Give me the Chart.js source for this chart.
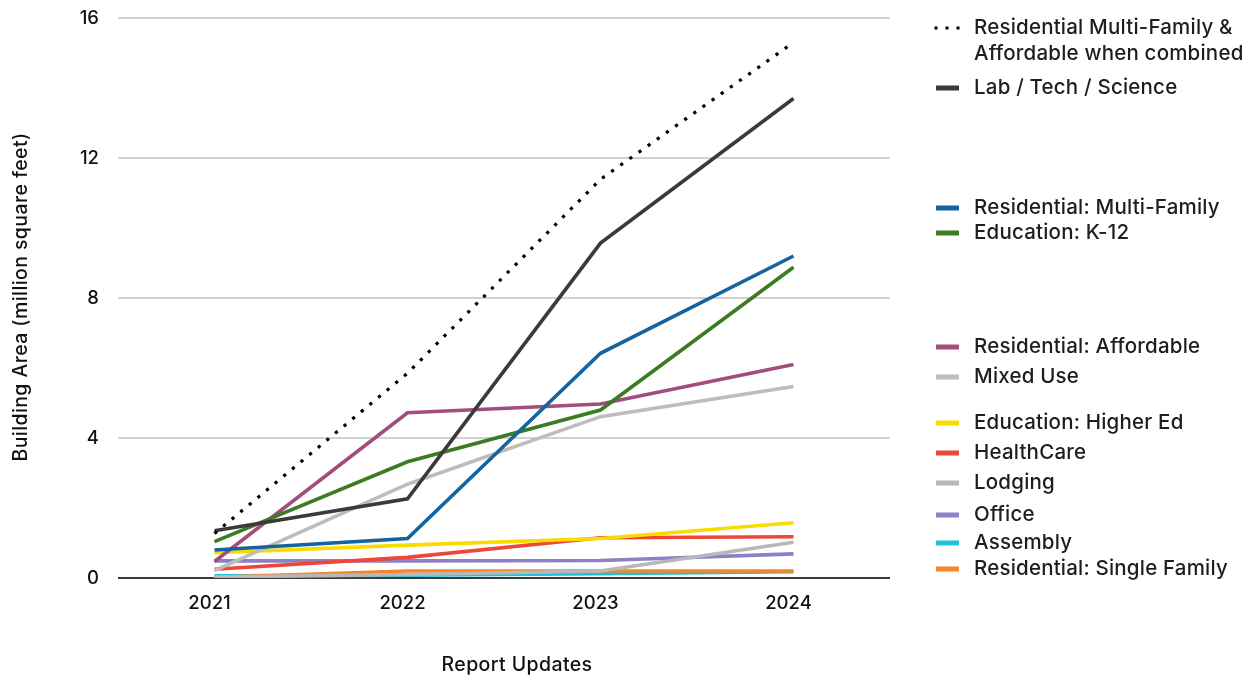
<!DOCTYPE html>
<html>
<head>
<meta charset="utf-8">
<title>Building Area by Report Update</title>
<script src="https://cdn.jsdelivr.net/npm/chart.js@4.4.1/dist/chart.umd.min.js"></script>
<style>
  html, body { margin: 0; padding: 0; background: #ffffff; }
  #wrap { position: relative; width: 1259px; height: 679px; }
</style>
</head>
<body>
<div id="wrap"><canvas id="chart" width="1259" height="679"></canvas></div>
<script>
// Report years (x categories)
const years = ['2021', '2022', '2023', '2024'];

// Y tick values (million square feet)
const yTicks = [0, 4, 8, 12, 16];

// Building area per sector, million square feet
const labTechScience   = [1.35, 2.26, 9.57, 13.70];
const resMultiFamily   = [0.80, 1.13, 6.42, 9.20];
const eduK12           = [1.04, 3.32, 4.80, 8.88];
const resAffordable    = [0.47, 4.72, 4.97, 6.10];
const mixedUse         = [0.21, 2.68, 4.61, 5.47];
const eduHigherEd      = [0.72, 0.94, 1.13, 1.58];
const healthCare       = [0.25, 0.59, 1.15, 1.18];
const lodging          = [0.03, 0.10, 0.20, 1.02];
const office           = [0.49, 0.49, 0.50, 0.69];
const assembly         = [0.06, 0.08, 0.12, 0.18];
const resSingleFamily  = [0.02, 0.20, 0.20, 0.20];

// Multi-family and affordable housing added together
const resCombined = resMultiFamily.map((v, i) => +(v + resAffordable[i]).toFixed(2));

const series = [
  { name: ['Residential Multi-Family &', 'Affordable when combined'], data: resCombined, color: '#000000', dotted: true },
  { name: ['Lab / Tech / Science'],            data: labTechScience,  color: '#3a3a3a' },
  { name: ['Residential: Multi-Family'],       data: resMultiFamily,  color: '#14649f' },
  { name: ['Education: K-12'],                 data: eduK12,          color: '#3b7b22' },
  { name: ['Residential: Affordable'],         data: resAffordable,   color: '#a24d7b' },
  { name: ['Mixed Use'],                       data: mixedUse,        color: '#bdbdbd' },
  { name: ['Education: Higher Ed'],            data: eduHigherEd,     color: '#f8dc00' },
  { name: ['HealthCare'],                      data: healthCare,      color: '#ee4638' },
  { name: ['Lodging'],                         data: lodging,         color: '#b8b8b8' },
  { name: ['Office'],                          data: office,          color: '#8f80c4' },
  { name: ['Assembly'],                        data: assembly,        color: '#20c0dc', under: true },
  { name: ['Residential: Single Family'],      data: resSingleFamily, color: '#f5862a' }
];

// Vertical placement of each legend row, grouped beside the line ends
const legendRowY = [28, 88, 208, 233, 347, 377, 423, 453, 483, 515, 543, 569];

const FONT = 'Inter, "Noto Sans", "DejaVu Sans", sans-serif';

const sideLegend = {
  id: 'sideLegend',
  afterDraw(chart) {
    const ctx = chart.ctx;
    ctx.save();
    ctx.textBaseline = 'middle';
    ctx.textAlign = 'left';
    ctx.font = '500 20.5px ' + FONT;
    ctx.letterSpacing = '0.2px';
    series.forEach((s, i) => {
      const y = legendRowY[i];
      ctx.fillStyle = s.color;
      if (s.dotted) {
        [936, 947, 958].forEach(x => ctx.fillRect(x - 1.5, y - 1.5, 3, 3));
      } else {
        ctx.fillRect(936, y - 2.5, 23, 5);
      }
      ctx.fillStyle = '#1e1e1e';
      s.name.forEach((line, k) => ctx.fillText(line, 974, y + k * 26));
    });

    // Axis titles
    ctx.fillStyle = '#111111';
    ctx.font = '500 19.5px ' + FONT;
    ctx.letterSpacing = '0.4px';
    ctx.textAlign = 'center';
    ctx.fillText('Report Updates', 517, 665);
    ctx.translate(21, 297);
    ctx.rotate(-Math.PI / 2);
    ctx.fillText('Building Area (million square feet)', 0, 0);
    ctx.restore();
  }
};

new Chart(document.getElementById('chart'), {
  type: 'line',
  data: {
    labels: years,
    datasets: series.map(s => ({
      label: s.name.join(' '),
      data: s.data,
      order: s.under ? 1 : 0,
      borderColor: s.color,
      backgroundColor: s.color,
      borderWidth: s.dotted ? 3.2 : 3.6,
      borderDash: s.dotted ? [3.2, 8] : [],
      borderCapStyle: 'butt',
      borderJoinStyle: 'miter',
      pointRadius: 0,
      tension: 0,
      fill: false
    }))
  },
  options: {
    responsive: false,
    animation: false,
    events: [],
    layout: { padding: { top: 18, right: 369, bottom: 0, left: 0 } },
    plugins: {
      legend: { display: false },
      tooltip: { enabled: false },
      title: { display: false }
    },
    scales: {
      x: {
        type: 'category',
        offset: true,
        grid: { display: false, drawTicks: false },
        border: { display: false },
        ticks: {
          color: '#111111',
          font: { family: FONT, size: 18.5, weight: '500' },
          padding: 14,
          labelOffset: -5,
          maxRotation: 0
        },
        afterFit(scale) { scale.height = 101; }
      },
      y: {
        min: 0,
        max: 16,
        afterBuildTicks(scale) { scale.ticks = yTicks.map(v => ({ value: v })); },
        grid: {
          drawTicks: true,
          tickLength: 19,
          tickColor: 'rgba(0,0,0,0)',
          lineWidth: 2,
          color: ctx => (ctx.tick && ctx.tick.value === 0) ? '#3a3a3a' : '#d2d2d2'
        },
        border: { display: false },
        ticks: {
          color: '#111111',
          font: { family: FONT, size: 18.5, weight: '500' },
          padding: 0
        },
        afterFit(scale) { scale.width = 118; }
      }
    }
  },
  plugins: [sideLegend]
});
</script>
</body>
</html>
